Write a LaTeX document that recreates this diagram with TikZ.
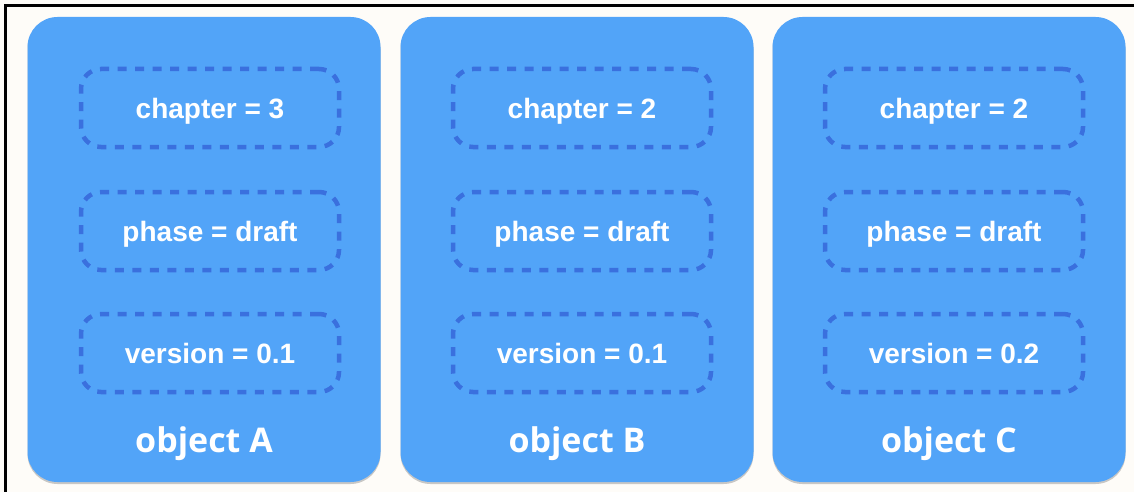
\documentclass[tikz,border=0pt]{standalone}
\usepackage{fontspec}
\setmainfont{Liberation Sans}
\newfontfamily\labelfont{Open Sans}
\usepackage{tikz}
\usetikzlibrary{shadows}
\definecolor{objfill}{HTML}{52A4F8}
\definecolor{propline}{HTML}{3A70DE}
\definecolor{paper}{HTML}{FEFCF8}

\begin{document}
\begin{tikzpicture}
		[x=1pt,y=-1pt,
		%Styles
		object box/.style={rectangle,rounded corners=30pt,fill=objfill,draw=none,
			minimum width=353pt,minimum height=465pt,inner sep=0pt,
			drop shadow={shadow xshift=0pt,shadow yshift=-2pt,opacity=.35,fill=black!60}},
		prop box/.style={rectangle,rounded corners=20pt,draw=propline,line width=4.5pt,
			dash pattern=on 9pt off 8.5pt,minimum width=258pt,minimum height=78pt,
			text depth=0pt,text=white,font=\fontsize{28}{32}\selectfont\bfseries},
		object name/.style={text=white,font=\labelfont\fontsize{34}{40}\selectfont\bfseries}
		]
		
		%Frame
		\useasboundingbox (0,0) rectangle (1134,492);
		\clip (0,0) rectangle (1134,492);
		\fill[paper] (0,0) rectangle (1134,492);
		\draw[line width=3pt] (5,6) rectangle (1150,510);
		
		%The graphic
		\node[object box] (objA) at (204, 249.5) {};
		\node[prop box] (chapterA) at (210, 108) {chapter = 3};
		\node[prop box] (phaseA) at (210, 231) {phase = draft};
		\node[prop box] (versionA) at (210, 353) {version = 0.1};
		\node[object name] (nameA) at (204, 444) {object A};
		
		\node[object box] (objB) at (577, 249.5) {};
		\node[prop box] (chapterB) at (582, 108) {chapter = 2};
		\node[prop box] (phaseB) at (582, 231) {phase = draft};
		\node[prop box] (versionB) at (582, 353) {version = 0.1};
		\node[object name] (nameB) at (577, 444) {object B};
		
		\node[object box] (objC) at (949, 249.5) {};
		\node[prop box] (chapterC) at (954, 108) {chapter = 2};
		\node[prop box] (phaseC) at (954, 231) {phase = draft};
		\node[prop box] (versionC) at (954, 353) {version = 0.2};
		\node[object name] (nameC) at (949, 444) {object C};
	\end{tikzpicture}
\end{document}
